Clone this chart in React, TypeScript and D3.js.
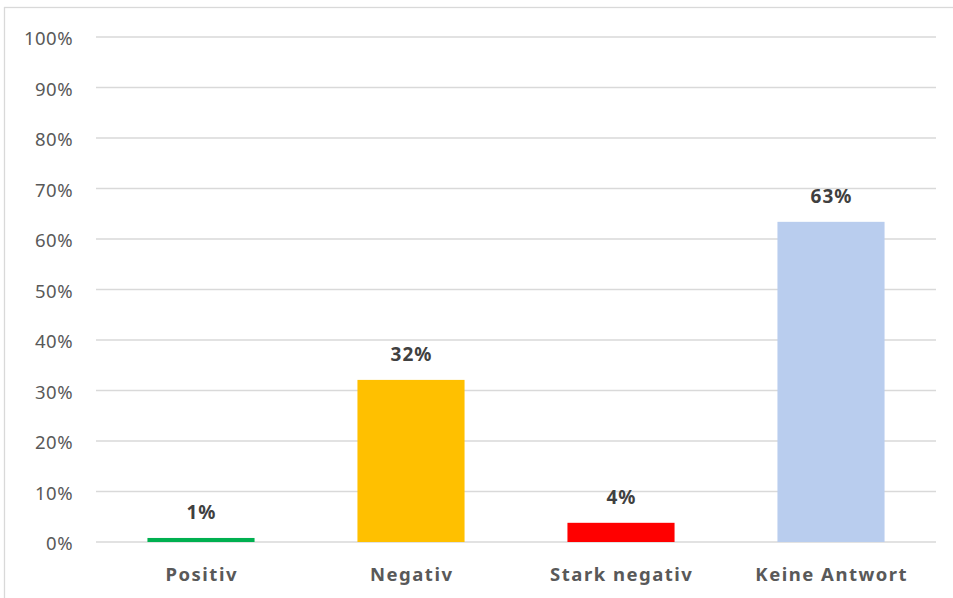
import React from "react";
import * as d3 from "d3";

const categories = ["Positiv", "Negativ", "Stark negativ", "Keine Antwort"];
const values = [0.8, 32.1, 3.8, 63.4];
const labels = ["1%", "32%", "4%", "63%"];
const colors = ["#00B050", "#FFC000", "#FF0000", "#B9CDEE"];
const ticks = [0, 10, 20, 30, 40, 50, 60, 70, 80, 90, 100];

const W = 953;
const H = 598;
const left = 96;
const right = 936;
const top = 37;
const bottom = 542;
const FONT = "'Noto Sans', sans-serif";

export default function App() {
  const x = d3.scaleBand<string>().domain(categories).range([left, right]).paddingInner(0.49).paddingOuter(0.245);
  const y = d3.scaleLinear().domain([0, 100]).range([bottom, top]);
  return (
    <svg width={W} height={H} style={{ position: "absolute", left: 0, top: 0, background: "#fff" }} fontFamily={FONT}>
      <rect x={4.5} y={7.5} width={W + 10} height={H + 10} fill="#fff" stroke="#D9D9D9" strokeWidth={1.3} />
      {ticks.map((t) => (
        <g key={t}>
          <line x1={left} x2={right} y1={y(t)} y2={y(t)} stroke="#D9D9D9" strokeWidth={1.3} />
          <text x={73} y={y(t)} dy="0.45em" textAnchor="end" fontSize={18.5} fill="#595959" letterSpacing={0.5}>
            {t}%
          </text>
        </g>
      ))}
      {categories.map((c, i) => (
        <g key={c}>
          <rect x={x(c)} y={y(values[i])} width={x.bandwidth()} height={bottom - y(values[i])} fill={colors[i]} />
          <text x={(x(c) as number) + x.bandwidth() / 2 + 0.5} y={y(values[i]) - 19} textAnchor="middle" fontSize={19} fontWeight="bold" fill="#404040" letterSpacing={1}>
            {labels[i]}
          </text>
          <text x={(x(c) as number) + x.bandwidth() / 2 + 0.75} y={581} textAnchor="middle" fontSize={18.5} fontWeight="bold" fill="#595959" letterSpacing={1.5}>
            {c}
          </text>
        </g>
      ))}
    </svg>
  );
}
